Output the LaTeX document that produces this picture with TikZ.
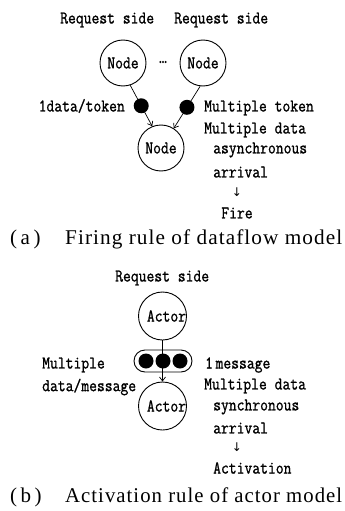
\documentclass[tikz,border=0pt]{standalone}
\usepackage{fontspec}
\usepackage{graphicx}
\setmainfont{Liberation Serif}
\newfontfamily\lblfont[FakeBold=1.2]{Latin Modern Mono}
\newfontfamily\capfont[LetterSpace=5]{Liberation Serif}
\newfontfamily\symfont{DejaVu Sans}
\usetikzlibrary{arrows.meta}
% condensed-looking typewriter labels
\newcommand{\tall}[1]{\scalebox{1}[1.18]{#1}}
% caption line: label in a fixed slot, title stretched to a fixed width
\newcommand{\capline}[2]{\makebox[55pt][l]{#1}\resizebox{277pt}{\height}{#2}}

\tikzset{
  lbl/.style={font=\lblfont\fontsize{15.2}{16}\selectfont, inner sep=0pt},
  circ/.style={circle, draw, line width=0.9pt, minimum size=46pt, inner sep=0pt},
  tok/.style={circle, fill=black, minimum size=15pt, inner sep=0pt},
  flow/.style={line width=0.7pt, -{Straight Barb[length=4pt,width=6pt]}},
  capsule/.style={draw, line width=0.9pt, rounded corners=11pt, minimum width=58pt, minimum height=22pt, inner sep=0pt},
  captext/.style={font=\capfont\fontsize{21}{23}\selectfont, inner sep=0pt, anchor=west},
  down/.style={font=\symfont\fontsize{12}{12}\selectfont, inner sep=0pt}
}

\begin{document}
\begin{tikzpicture}[x=1pt, y=-1pt]
\useasboundingbox (0,0) rectangle (345,511);

% ---------- (a) firing rule of the dataflow model ----------
\node[lbl, anchor=west] (rq1) at (60,20) {\tall{Request side}};
\node[lbl, anchor=west] (rq2) at (174,20) {\tall{Request side}};

\node[circ, lbl] (n1) at (123,63) {\tall{Node}};
\node[circ, lbl] (n2) at (203,63) {\tall{Node}};
\node[circ, lbl] (n3) at (161,148) {\tall{Node}};
\node[lbl] (dots) at (163,62) {\tall{\ldots}};

\draw[flow] (n1.-72) -- node[tok, pos=0.5] (t1) {} (n3.112);
\draw[flow] (n2.-97) -- node[tok, pos=0.5] (t2) {} (n3.57);

\node[lbl, anchor=east] (l1) at (125,106) {\tall{1data/token}};
\node[lbl, anchor=west] (r1) at (204,108) {\tall{Multiple token}};
\node[lbl, anchor=west] (r2) at (204,130) {\tall{Multiple data}};
\node[lbl, anchor=west] (r3) at (213,150) {\tall{asynchronous}};
\node[lbl, anchor=west] (r4) at (213,172) {\tall{arrival}};
\node[down] (r5) at (237,192) {↓};
\node[lbl] (r6) at (237,213) {\tall{Fire}};

\node[captext] (capa) at (10,239) {\capline{(\,a\,)}{Firing rule of dataflow model}};

% ---------- (b) activation rule of the actor model ----------
\node[lbl, anchor=west] (rq3) at (115,278) {\tall{Request side}};

\node[circ, minimum size=48pt] (a1) at (162.5,316) {};
\node[lbl] (a1t) at ([xshift=4pt]a1.center) {\tall{Actor}};
\node[circ, minimum size=48pt] (a2) at (162.5,406) {};
\node[lbl] (a2t) at ([xshift=4pt]a2.center) {\tall{Actor}};

\node[capsule] (msg) at (163,361) {};
\node[tok] (m1) at (146,361) {};
\node[tok] (m2) at (163,361) {};
\node[tok] (m3) at (180,361) {};
\draw[flow] (a1.south) -- (a2.north);

\node[lbl, anchor=west] (b1) at (42,365) {\tall{Multiple}};
\node[lbl, anchor=west] (b2) at (42,387) {\tall{data/message}};
\node[lbl, anchor=west] (c1) at (205,365) {\tall{1\,message}};
\node[lbl, anchor=west] (c2) at (204,386) {\tall{Multiple data}};
\node[lbl, anchor=west] (c3) at (213,407) {\tall{synchronous}};
\node[lbl, anchor=west] (c4) at (213,428) {\tall{arrival}};
\node[down] (c5) at (237,447) {↓};
\node[lbl, anchor=west] (c6) at (213,468) {\tall{Activation}};

\node[captext] (capb) at (10,497) {\capline{(\,b\,)}{Activation rule of actor model}};
\end{tikzpicture}
\end{document}
